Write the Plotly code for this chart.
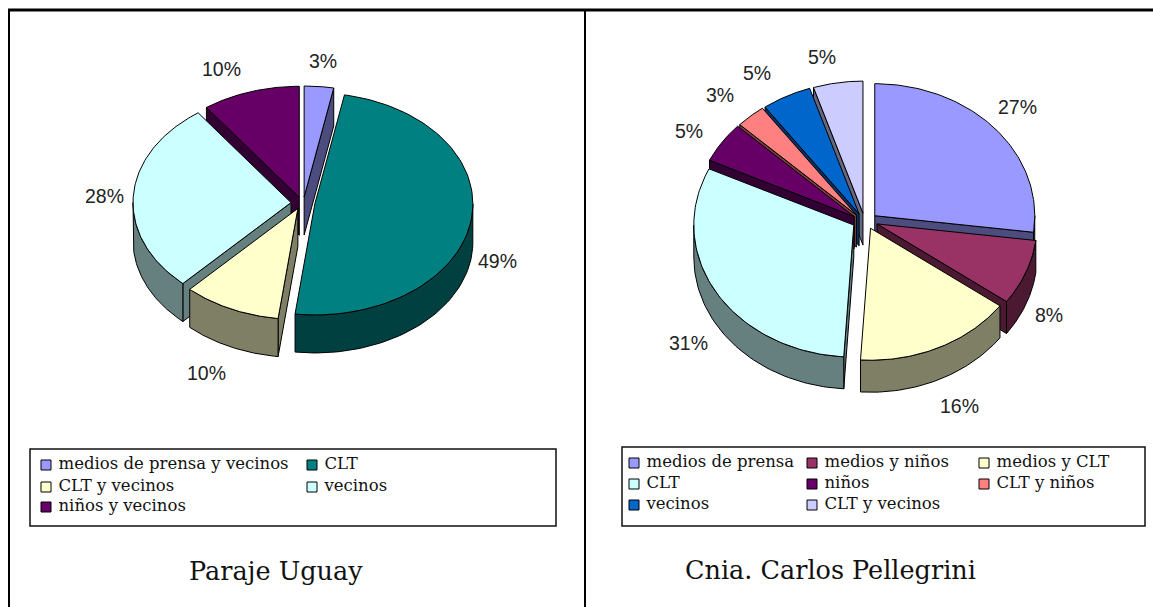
import numpy as np
import plotly.graph_objects as go

# ---- data ----
left_title = "Paraje Uguay"
left_categories = ["medios de prensa y vecinos", "CLT", "CLT y vecinos", "vecinos", "niños y vecinos"]
left_values = [3, 49, 10, 28, 10]
left_colors = ["#9999FF", "#008080", "#FFFFCC", "#CCFFFF", "#660066"]

right_title = "Cnia. Carlos Pellegrini"
right_categories = ["medios de prensa", "medios y niños", "medios y CLT", "CLT", "niños",
                    "CLT y niños", "vecinos", "CLT y vecinos"]
right_values = [27, 8, 16, 31, 5, 3, 5, 5]
right_colors = ["#9999FF", "#993366", "#FFFFCC", "#CCFFFF", "#660066", "#FF8080", "#0066CC", "#CCCCFF"]

# ---- layout helpers ----
W, H = 1153, 607
LEFT_PIE = dict(cx=303, cy=203, rx=158, ry=111, depth=38, ex=12, ey=6)
RIGHT_PIE = dict(cx=865, cy=221, rx=160, ry=132, depth=32, ex=13, ey=8)
left_label_xy = [(323, 61), (497, 261), (206, 373), (104, 196), (221, 69)]
right_label_xy = [(1017, 107), (1049, 315), (959, 406), (688, 343), (689, 131), (720, 95), (757, 73), (822, 57)]
SERIF = "DejaVu Serif"
SANS = "Liberation Sans"


def darker(hexcolor):
    r, g, b = (int(hexcolor[i:i + 2], 16) for i in (1, 3, 5))
    return f"rgb({r // 2},{g // 2},{b // 2})"


def poly(fig, xs, ys, color, name):
    fig.add_trace(go.Scatter(x=list(xs), y=list(ys), mode="lines", fill="toself", fillcolor=color,
                             line=dict(color="#000000", width=1), name=name, hoverinfo="name",
                             showlegend=False))


def pie3d(fig, values, colors, names, cx, cy, rx, ry, depth, ex, ey):
    total = sum(values)
    edges = np.concatenate([[0], np.cumsum(values)]) / total * 360.0
    slices = []
    for i in range(len(values)):
        t0, t1 = edges[i], edges[i + 1]
        slices.append((np.cos(np.radians((t0 + t1) / 2)), i, t0, t1))
    for _, i, t0, t1 in sorted(slices, key=lambda s: -s[0]):
        mid = np.radians((t0 + t1) / 2)
        vx = cx + ex * np.sin(mid)
        vy = cy - ey * np.cos(mid)
        rim = lambda t: (vx + rx * np.sin(np.radians(t)), vy - ry * np.cos(np.radians(t)))
        dark = darker(colors[i])
        # cut faces
        if 0 < t1 < 180:
            x, y = rim(t1)
            poly(fig, [vx, x, x, vx, vx], [vy, y, y + depth, vy + depth, vy], dark, names[i])
        if 180 < t0 < 360:
            x, y = rim(t0)
            poly(fig, [vx, x, x, vx, vx], [vy, y, y + depth, vy + depth, vy], dark, names[i])
        # outer wall (front half only)
        a, b = max(t0, 90), min(t1, 270)
        if b > a:
            ts = np.linspace(a, b, 60)
            x, y = rim(ts)
            poly(fig, np.r_[x, x[::-1], x[0]], np.r_[y, (y + depth)[::-1], y[0]], dark, names[i])
        # top face
        ts = np.linspace(t0, t1, 90)
        x, y = rim(ts)
        poly(fig, np.r_[vx, x, vx], np.r_[vy, y, vy], colors[i], names[i])


def labels(fig, values, positions):
    for v, (x, y) in zip(values, positions):
        fig.add_annotation(x=x, y=y, text=f"{v}%", showarrow=False,
                           font=dict(family=SANS, size=19.5, color="#222222"))


def legend(fig, names, colors, cols, rows):
    for i, (name, color) in enumerate(zip(names, colors)):
        cx = cols[i % len(cols)]
        cy = rows[i // len(cols)]
        fig.add_trace(go.Scatter(x=[cx], y=[cy], mode="markers+text", text=[" " + name],
                                 textposition="middle right", hoverinfo="skip", showlegend=False,
                                 marker=dict(symbol="square", size=10, color=color,
                                             line=dict(color="#000000", width=1)),
                                 textfont=dict(family=SERIF, size=16.5, color="#111111")))


fig = go.Figure()
pie3d(fig, left_values, left_colors, left_categories, **LEFT_PIE)
pie3d(fig, right_values, right_colors, right_categories, **RIGHT_PIE)
labels(fig, left_values, left_label_xy)
labels(fig, right_values, right_label_xy)
legend(fig, left_categories, left_colors, [46, 312], [465, 487, 507])
legend(fig, right_categories, right_colors, [634, 812, 984], [463, 484, 505])

frame = dict(color="#000000", width=2)
shapes = [
    dict(type="line", x0=8, x1=W, y0=10, y1=10, line=dict(color="#000000", width=3)),
    dict(type="line", x0=9, x1=9, y0=10, y1=H, line=frame),
    dict(type="line", x0=585, x1=585, y0=10, y1=H, line=frame),
    dict(type="rect", x0=30, x1=556, y0=449, y1=526, line=dict(color="#111111", width=1.5)),
    dict(type="rect", x0=622, x1=1145, y0=447, y1=526, line=dict(color="#111111", width=1.5)),
]
for title, x, y in [(left_title, 276, 571), (right_title, 830, 570)]:
    fig.add_annotation(x=x, y=y, text=title, showarrow=False,
                       font=dict(family=SERIF, size=25.5, color="#111111"))

fig.update_layout(
    width=W, height=H, margin=dict(l=0, r=0, t=0, b=0), autosize=False,
    paper_bgcolor="#FFFFFF", plot_bgcolor="#FFFFFF", shapes=shapes, showlegend=False,
    xaxis=dict(range=[0, W], visible=False, fixedrange=True),
    yaxis=dict(range=[H, 0], visible=False, fixedrange=True),
)
fig.write_html("out.html", post_script="document.body.style.margin='0';",
               config=dict(displayModeBar=False))
